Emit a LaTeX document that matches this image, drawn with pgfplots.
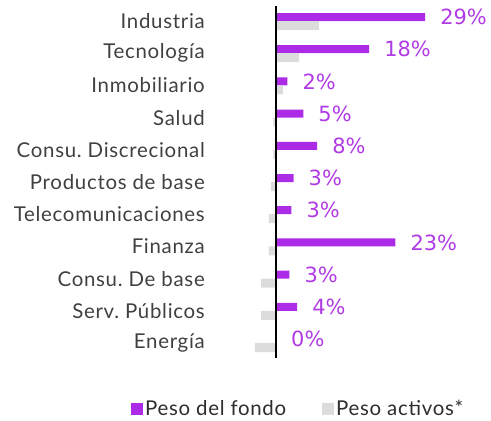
\documentclass[border=0pt]{standalone}
\usepackage{pgfplots}
\pgfplotsset{compat=1.18}
\usepackage{pgfplotstable}
\usepackage{fontspec}
\setmainfont{Lato}[LetterSpace=3.5]
\newfontfamily\valfont{DejaVu Sans}
\frenchspacing
\definecolor{fondo}{RGB}{171,43,230}
\definecolor{fondolab}{RGB}{176,58,228}
\definecolor{activos}{RGB}{220,220,220}
\definecolor{cattext}{RGB}{64,64,64}
\definecolor{legtext}{RGB}{45,45,45}

\pgfplotstableread{
y x lab
0 29.0 29
1 18.1 18
2 2.2 2
3 5.3 5
4 8.0 8
5 3.4 3
6 3.0 3
7 23.2 23
8 2.6 3
9 4.1 4
10 0.0 0
}\fondo

\pgfplotstableread{
y x
0 8.4
1 4.5
2 1.4
3 -0.5
4 -0.5
5 -1.0
6 -1.4
7 -1.4
8 -2.9
9 -2.9
10 -4.1
}\activos

\begin{document}
\frenchspacing
\begin{tikzpicture}
\path[use as bounding box] (0,0) rectangle (491bp,421bp);
\begin{axis}[
  at={(208bp,63bp)}, anchor=south west,
  scale only axis, width=248bp, height=352bp,
  xmin=-13.23, xmax=35,
  ymin=-0.466, ymax=10.466,
  y dir=reverse,
  xbar,
  axis line style={draw=none},
  xtick=\empty,
  ytick={0,...,10},
  yticklabels={Industria,Tecnología,Inmobiliario,Salud,Consu. Discrecional,Productos de base,Telecomunicaciones,Finanza,Consu. De base,Serv. Públicos,Energía},
  major tick length=0pt,
  yticklabel style={font=\fontsize{20.5}{23}\selectfont\frenchspacing, text=cattext, inner sep=0pt, xshift=-3bp},
  clip=false,
  legend columns=2,
  legend style={draw=none, fill=none, inner sep=0pt, outer sep=0pt,
    at={(axis description cs:-0.31,-0.145)}, anchor=west,
    font=\fontsize{20.5}{23}\selectfont, text=legtext,
    nodes={inner xsep=2bp, inner ysep=0pt},
    /tikz/every even column/.append style={column sep=34bp}},
  legend image code/.code={\fill[#1] (0bp,-6bp) rectangle (12bp,6bp);},
]
\addplot[fill=fondo, draw=none, bar width=8bp, bar shift=4bp,
  point meta=explicit symbolic,
  nodes near coords={\pgfplotspointmeta\%},
  every node near coord/.append style={anchor=west, inner sep=0pt, xshift=15bp,
    font=\valfont\fontsize{21}{25}\selectfont, text=fondolab}]
  table[x=x, y=y, meta=lab] {\fondo};
\addlegendentry{Peso del fondo}
\addplot[fill=activos, draw=none, bar width=9bp, bar shift=-4.5bp]
  table[x=x, y=y] {\activos};
\addlegendentry{Peso activos*}
\draw[black, line width=2bp] (axis cs:0,-0.466) -- (axis cs:0,10.466);
\end{axis}
\end{tikzpicture}
\end{document}
